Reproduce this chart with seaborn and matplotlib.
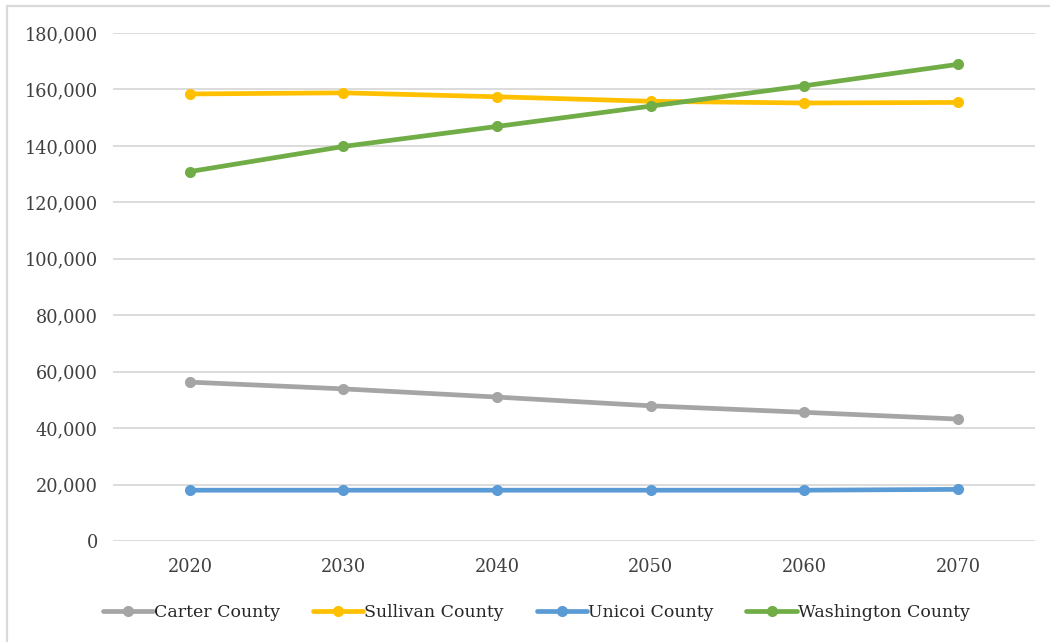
import pandas as pd
import seaborn as sns
import matplotlib.pyplot as plt
from matplotlib.ticker import FuncFormatter
from matplotlib.patches import Rectangle

years = ["2020", "2030", "2040", "2050", "2060", "2070"]
carter = [56300, 53900, 51000, 47900, 45600, 43200]
sullivan = [158400, 158800, 157400, 155800, 155200, 155400]
unicoi = [18000, 18000, 18000, 18000, 18000, 18300]
washington = [130900, 139800, 146900, 154100, 161300, 168900]

counties = ["Carter County", "Sullivan County", "Unicoi County", "Washington County"]
colors = ["#A5A5A5", "#FFC000", "#5B9BD5", "#70AD47"]

df = pd.DataFrame({
    "year": years * 4,
    "pop": carter + sullivan + unicoi + washington,
    "county": [c for c in counties for _ in years],
})

sns.set_style("white")
plt.rcParams["font.family"] = ["DejaVu Serif"]

fig = plt.figure(figsize=(10.5, 6.42), dpi=100)
ax = fig.add_axes([0.1076, 0.1573, 0.8781, 0.7913])

sns.lineplot(data=df, x="year", y="pop", hue="county", palette=colors,
             marker="o", markersize=8, markeredgewidth=0, linewidth=3.4,
             sort=False, ax=ax)

ax.set_xlim(-0.5, 5.5)
ax.set_ylim(0, 180000)
ax.set_yticks(range(0, 180001, 20000))
ax.yaxis.set_major_formatter(FuncFormatter(lambda v, p: f"{int(v):,}"))
ax.grid(axis="y", color="#D9D9D9", linewidth=1.3)
ax.set_axisbelow(True)
for s in ax.spines.values():
    s.set_visible(False)
ax.tick_params(axis="both", length=0, labelsize=12.8, colors="#404040")
ax.tick_params(axis="y", pad=11)
ax.tick_params(axis="x", pad=12)
ax.set_xlabel("")
ax.set_ylabel("")

handles, labels = ax.get_legend_handles_labels()
leg = ax.legend(handles, labels, loc="center", bbox_to_anchor=(0.459, -0.14),
                ncol=4, frameon=False, fontsize=12.5, handlelength=2.9,
                handletextpad=0.05, columnspacing=1.9)
for t in leg.get_texts():
    t.set_color("#262626")

fig.patches.append(Rectangle((0.0062, -0.05), 1.1, 0.05 + 0.9899, transform=fig.transFigure,
                             fill=False, edgecolor="#D9D9D9", linewidth=1.6))

fig.savefig("out.png", dpi=100)
